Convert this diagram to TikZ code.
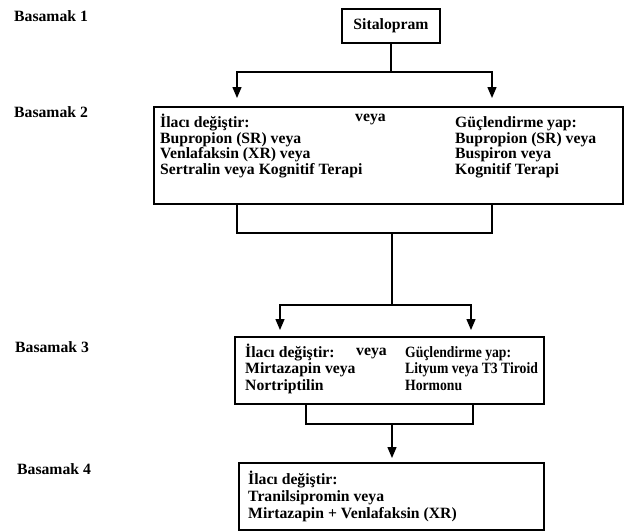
\documentclass[tikz,border=0pt]{standalone}
\usepackage{fontspec}
\setmainfont{Liberation Serif}
\usetikzlibrary{arrows.meta}
\begin{document}
\begin{tikzpicture}[x=1pt,y=-1pt,
  box/.style={draw,line width=1.8pt,inner sep=0pt},
  bf/.style={font=\fontsize{15.7}{15.7}\selectfont\bfseries},
  txt/.style={bf,anchor=base west,inner sep=0pt,align=left},
  conn/.style={line width=1.4pt},
  arr/.style={conn,-{Triangle[length=11pt,width=9pt]}}]
\useasboundingbox (0,0) rectangle (626,531);

% step labels
\node[txt] (l1) at (14,21) {Basamak 1};
\node[txt] (l2) at (14,117) {Basamak 2};
\node[txt] (l3) at (15,352) {Basamak 3};
\node[txt] (l4) at (17,474) {Basamak 4};

% boxes
\node[box,bf,minimum width=98pt,minimum height=34pt] (s1) at (391,26) {Sitalopram};
\node[box,minimum width=469pt,minimum height=97pt] (b2) at (388.5,155.5) {};
\node[box,minimum width=309pt,minimum height=67pt] (b3) at (389.5,370.5) {};
\node[box,minimum width=305pt,minimum height=67pt] (b4) at (391.5,496.5) {};

% box 2 texts (anchored at the baseline of the last line)
\node[txt,font=\fontsize{15.7}{15.7}\selectfont\bfseries] (b2l) at (160,174.6)
  {İlacı değiştir:\\Bupropion (SR) veya\\Venlafaksin (XR) veya\\Sertralin veya Kognitif Terapi};
\node[txt] (b2v) at (355,121) {veya};
\node[txt,font=\fontsize{15.7}{15.7}\selectfont\bfseries] (b2r) at (455,174.6)
  {Güçlendirme yap:\\Bupropion (SR) veya\\Buspiron veya\\Kognitif Terapi};

% box 3 texts
\node[txt,font=\fontsize{15.7}{16.5}\selectfont\bfseries] (b3l) at (245,390)
  {İlacı değiştir:\\Mirtazapin veya\\Nortriptilin};
\node[txt] (b3v) at (356,355) {veya};
\node[txt,font=\fontsize{15.7}{16.5}\selectfont\bfseries] (b3r) at (405,390)
  {\scalebox{0.87}[1]{Güçlendirme yap:}\\\scalebox{0.87}[1]{Lityum veya T3 Tiroid}\\\scalebox{0.87}[1]{Hormonu}};

% box 4 texts
\node[txt,font=\fontsize{15.7}{17}\selectfont\bfseries] (b4l) at (248,518)
  {İlacı değiştir:\\Tranilsipromin veya\\Mirtazapin + Venlafaksin (XR)};

% junction coordinates
\coordinate (j1) at (391,72);
\coordinate (t2l) at (237,98);
\coordinate (t2r) at (492,98);
\coordinate (m2) at (392,233);
\coordinate (j3) at (392,305);
\coordinate (t3l) at (280,330);
\coordinate (t3r) at (471,330);
\coordinate (m3l) at (306,424);
\coordinate (m3r) at (473,424);
\coordinate (m3) at (392,424);
\coordinate (t4) at (392,458);

% connectors
\draw[conn] (s1.south) -- (j1);
\draw[arr] (j1) -| (t2l);
\draw[arr] (j1) -| (t2r);
\draw[conn] (b2.south -| t2l) |- (m2) -| (b2.south -| t2r);
\draw[conn] (m2) -- (j3);
\draw[arr] (j3) -| (t3l);
\draw[arr] (j3) -| (t3r);
\draw[conn] (b3.south -| m3l) -- (m3l) -- (m3r) -- (b3.south -| m3r);
\draw[arr] (m3) -- (t4);
\end{tikzpicture}
\end{document}
